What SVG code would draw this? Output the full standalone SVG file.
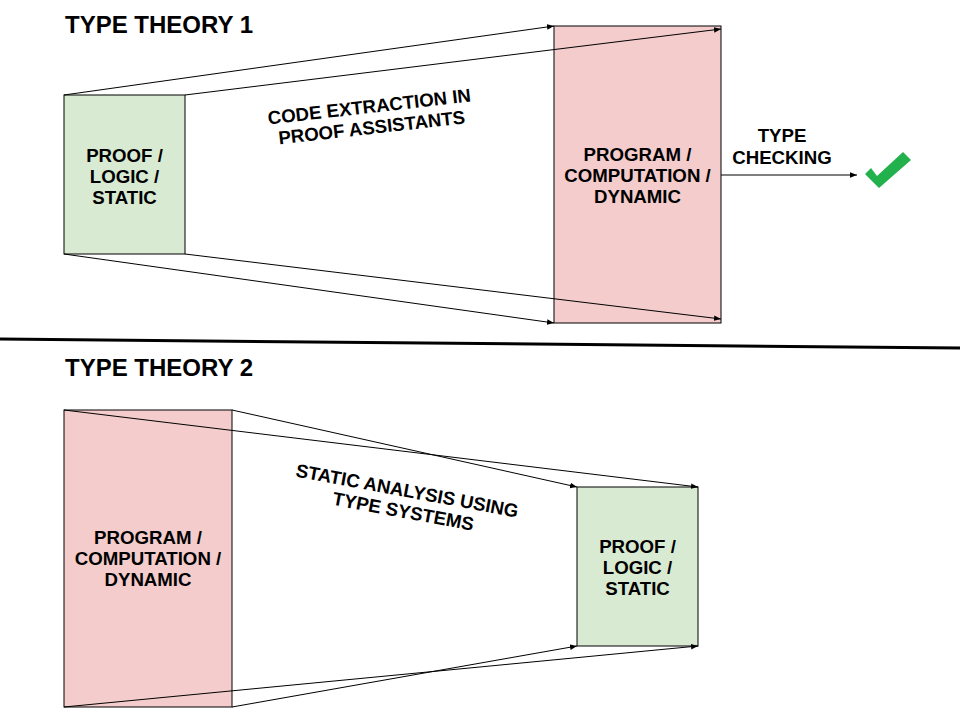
<svg xmlns="http://www.w3.org/2000/svg" width="960" height="720" viewBox="0 0 960 720">
<defs>
<marker id="ah" viewBox="0 0 10 10" refX="10" refY="5" markerWidth="7" markerHeight="7" markerUnits="userSpaceOnUse" orient="auto">
<path d="M0,1 L10,5 L0,9 Z" fill="#000"/>
</marker>
<style>
.t{font-family:"Liberation Sans",Arial,sans-serif;font-weight:bold;fill:#000;}
.h{font-size:24px;}
.n{font-size:18.67px;text-anchor:middle;}
.c{stroke:#000;stroke-width:1;fill:none;marker-end:url(#ah);}
.g{fill:#d9ead3;stroke:#000;stroke-width:1;}
.p{fill:#f4cccc;stroke:#000;stroke-width:1;}
</style>
</defs>
<rect width="960" height="720" fill="#fff"/>
<text class="t h" x="65" y="33">TYPE THEORY 1</text>
<text class="t h" x="65" y="376">TYPE THEORY 2</text>
<line x1="0" y1="339" x2="960" y2="348" stroke="#000" stroke-width="3"/>

<g id="proof1">
<rect class="g" x="64" y="95" width="121" height="159"/>
<text class="t n" x="124.5" y="162">PROOF /</text>
<text class="t n" x="124.5" y="183">LOGIC /</text>
<text class="t n" x="124.5" y="204">STATIC</text>
</g>
<g id="program1">
<rect class="p" x="554" y="26" width="167" height="297"/>
<text class="t n" x="637.5" y="161">PROGRAM /</text>
<text class="t n" x="637.5" y="182">COMPUTATION /</text>
<text class="t n" x="637.5" y="203">DYNAMIC</text>
</g>
<g id="check">
<path d="M865,174 L871,168 L877,176 L903,152 L911,160 L879,188 Z" fill="#22b14c"/>
</g>
<g id="program2">
<rect class="p" x="64" y="410" width="168" height="297"/>
<text class="t n" x="148" y="544">PROGRAM /</text>
<text class="t n" x="148" y="565">COMPUTATION /</text>
<text class="t n" x="148" y="586">DYNAMIC</text>
</g>
<g id="proof2">
<rect class="g" x="577" y="487" width="121" height="159"/>
<text class="t n" x="637.5" y="553">PROOF /</text>
<text class="t n" x="637.5" y="574">LOGIC /</text>
<text class="t n" x="637.5" y="595">STATIC</text>
</g>

<g id="connectors">
<line class="c" x1="64" y1="95" x2="554" y2="26"/>
<line class="c" x1="185" y1="95" x2="721" y2="29"/>
<line class="c" x1="64" y1="254" x2="554" y2="323"/>
<line class="c" x1="185" y1="254" x2="721" y2="319"/>
<line class="c" x1="721" y1="175" x2="857" y2="175"/>
<text class="t n" x="782" y="142">TYPE</text>
<text class="t n" x="782" y="164">CHECKING</text>
<line class="c" x1="64" y1="410" x2="698" y2="487"/>
<line class="c" x1="232" y1="410" x2="577" y2="487"/>
<line class="c" x1="64" y1="707" x2="698" y2="646"/>
<line class="c" x1="232" y1="707" x2="577" y2="646"/>
<g transform="translate(370,113) rotate(-6.5)">
<text class="t n" x="0" y="0">CODE EXTRACTION IN</text>
<text class="t n" x="0" y="21">PROOF ASSISTANTS</text>
</g>
<g transform="translate(406,497) rotate(10.5)">
<text class="t n" x="0" y="0">STATIC ANALYSIS USING</text>
<text class="t n" x="0" y="21">TYPE SYSTEMS</text>
</g>
</g>
</svg>
